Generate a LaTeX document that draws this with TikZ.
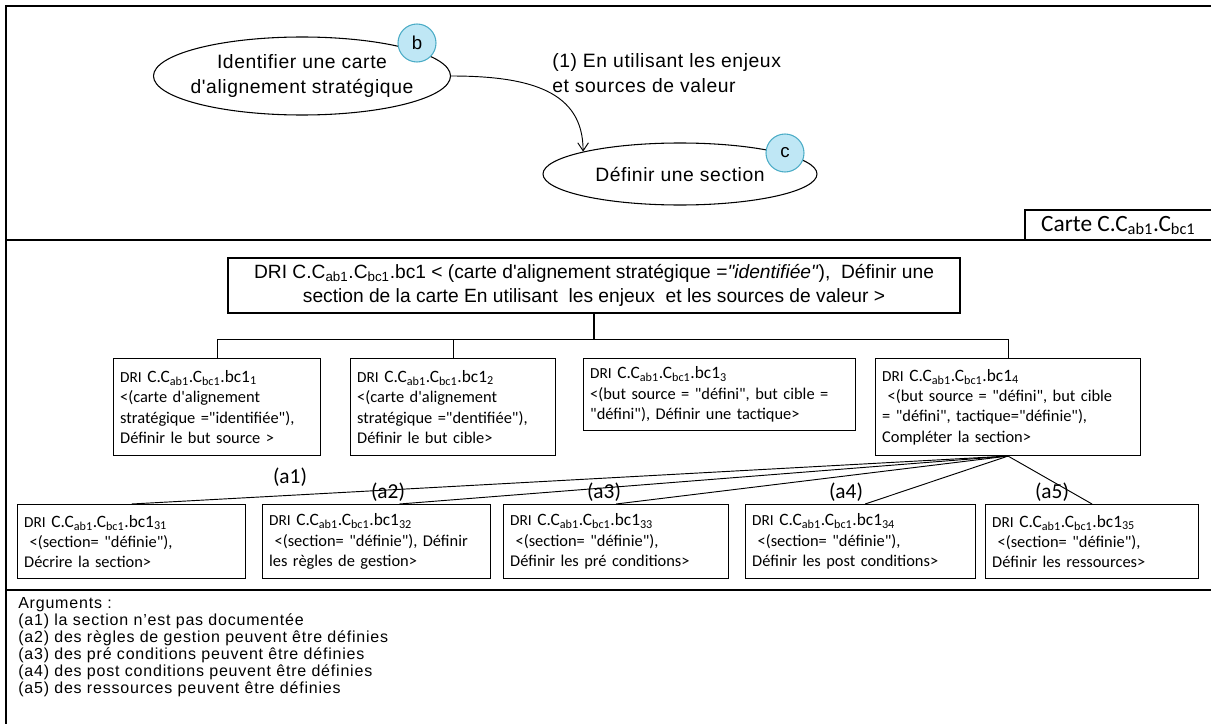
\documentclass[tikz,border=0pt]{standalone}
\usepackage{fontspec}
\setmainfont{Liberation Sans}[Ligatures=TeXOff]
\newfontfamily\calibri{Carlito}[Ligatures=TeXOff]
\newfontfamily\spacedsans{Liberation Sans}[Ligatures=TeXOff, LetterSpace=3]
\newfontfamily\argsans{Liberation Sans}[Ligatures=TeXOff, LetterSpace=5]
\usetikzlibrary{
  arrows.meta,
  shapes.geometric,
  positioning,
  calc
}
\definecolor{dgTagFill}{HTML}{BFE7F5}
\definecolor{dgTagEdge}{HTML}{4BACC6}
\newcommand{\dri}[1]{{\fontsize{11.5}{14}\selectfont DRI} {\fontsize{13}{15}\selectfont C.C\textsubscript{ab1}.C\textsubscript{bc1}.bc1\textsubscript{#1}}}
\tikzset{
  frameline/.style={line width=1.1pt},
  treeline/.style={line width=0.8pt},
  fanline/.style={line width=0.7pt},
  goal/.style={draw, ellipse, line width=0.8pt, inner xsep=-25pt, inner ysep=-4pt, align=center, font=\spacedsans\fontsize{14.5}{19}\selectfont},
  tagdot/.style={circle, draw=dgTagEdge, fill=dgTagFill, line width=0.8pt, minimum size=28.5pt, inner sep=0pt, font=\fontsize{14}{14}\selectfont},
  flowarrow/.style={line width=0.7pt, -{Straight Barb[length=6pt, width=8pt]}},
  rootbox/.style={draw, line width=0.8pt, align=center, font=\fontsize{14.4}{18}\selectfont},
  dribox/.style={draw, line width=0.8pt, anchor=north west, align=left, inner xsep=5pt, inner ysep=0pt, font=\calibri\fontsize{12.3}{15.3}\selectfont},
  argtag/.style={inner sep=0pt, font=\calibri\fontsize{16}{16}\selectfont},
  argtext/.style={anchor=north west, align=left, inner sep=0pt, font=\argsans\fontsize{12}{12.75}\selectfont}
}

\begin{document}
\begin{tikzpicture}[x=0.75pt, y=-0.75pt]
  \useasboundingbox (0,0) rectangle (1211,724);
  \draw[frameline] (6,724) -- (6,6) -- (1211,6);
  \draw[frameline] (6,240) -- (1211,240);
  \draw[frameline] (6,590) -- (1211,590);

  % carte
  \node[goal, minimum width=222.75pt, minimum height=58.5pt] (goalA) at (302,76) {Identifier une carte\\d'alignement strat\'egique};
  \node[goal, minimum width=205.5pt, minimum height=46.5pt] (goalB) at (680,174) {D\'efinir une section};
  \draw[flowarrow] (goalA.east) .. controls +(80,0) and +(0,-60) .. (goalB.167);
  \node[anchor=north west, align=left, inner sep=0pt, font=\spacedsans\fontsize{14.5}{19}\selectfont] (viaLbl) at (552,53) {(1) En utilisant les enjeux\\et sources de valeur};
  \node[tagdot] (tagB) at (417,43) {b};
  \node[tagdot] (tagC) at (785,153) {c};
  \node[anchor=north west, minimum width=139.5pt, minimum height=22.5pt, inner sep=0pt, font=\calibri\fontsize{17.5}{17.5}\selectfont] (carte) at (1025,210) {Carte C.C\textsubscript{ab1}.C\textsubscript{bc1}};
  \draw[treeline] (carte.south west) |- (carte.north east);

  % DRI
  \node[rootbox, minimum width=549pt, minimum height=41.25pt] (root) at (594,285.5) {DRI C.C\textsubscript{ab1}.C\textsubscript{bc1}.bc1 < (carte d'alignement strat\'egique =\textit{"identifi\'ee"}), \ D\'efinir une\\section de la carte En utilisant \ les enjeux \ et les sources de valeur >};
  \node[dribox, text width=145.25pt, minimum height=72.75pt] (b1) at (113,358) {\dri{1}\\<(carte d'alignement\\strat\'egique ="identifi\'ee"),\\D\'efinir le but source >};
  \node[dribox, text width=143.75pt, minimum height=72.75pt] (b2) at (350,358) {\dri{2}\\<(carte d'alignement\\strat\'egique ="dentifi\'ee"),\\D\'efinir le but cible>};
  \node[dribox, text width=194pt, minimum height=54pt] (b3) at (583,358) {\dri{3}\\<(but source = "d\'efini", but cible =\\"d\'efini"), D\'efinir une tactique>};
  \node[dribox, text width=188.75pt, minimum height=72.75pt] (b4) at (875,358) {\dri{4}\\\ <(but source = "d\'efini", but cible\\= "d\'efini", tactique="d\'efinie"),\\Compl\'eter la section>};
  \coordinate (bar) at ($(root.south)+(0,26)$);
  \draw[treeline] (root.south) -- (bar);
  \draw[treeline] (b1.north) |- (bar) -| (b4.north);
  \draw[treeline] (b2.north) -- (b2.north |- bar);

  \node[dribox, text width=161pt, minimum height=55.5pt] (b31) at (17,504) {\dri{31}\\\ <(section= "d\'efinie"),\\D\'ecrire la section>};
  \node[dribox, text width=161pt, minimum height=55.5pt] (b32) at (262,504) {\dri{32}\\\ <(section= "d\'efinie"), D\'efinir\\les r\`egles de gestion>};
  \node[dribox, text width=158.75pt, minimum height=55.5pt] (b33) at (503,504) {\dri{33}\\\ <(section= "d\'efinie"),\\D\'efinir les pr\'e conditions>};
  \node[dribox, text width=162.5pt, minimum height=55.5pt] (b34) at (745,504) {\dri{34}\\\ <(section= "d\'efinie"),\\D\'efinir les post conditions>};
  \node[dribox, text width=149.75pt, minimum height=55.5pt] (b35) at (985,504) {\dri{35}\\\ <(section= "d\'efinie"),\\D\'efinir les ressources>};
  \foreach \t/\f in {b31/0.5, b32/0.6, b33/0.5, b34/0.52, b35/0.5}
    \draw[fanline] (b4.south) -- ($(\t.north west)!\f!(\t.north east)$);
  \node[argtag] (la1) at (290,477) {(a1)};
  \node[argtag] (la2) at (388,492) {(a2)};
  \node[argtag] (la3) at (604,492) {(a3)};
  \node[argtag] (la4) at (846,492) {(a4)};
  \node[argtag] (la5) at (1052,492) {(a5)};

  % arguments
  \node[argtext] (args) at (18,597) {Arguments :\\(a1) la section n’est pas document\'ee\\(a2) des r\`egles de gestion peuvent \^etre d\'efinies\\(a3) des pr\'e conditions peuvent \^etre d\'efinies\\(a4) des post conditions peuvent \^etre d\'efinies\\(a5) des ressources peuvent \^etre d\'efinies};
\end{tikzpicture}
\end{document}
